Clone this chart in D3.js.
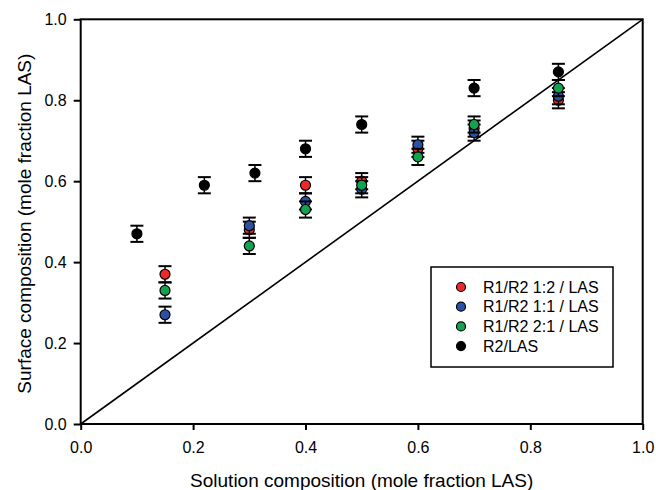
<!DOCTYPE html>
<html>
<head>
<meta charset="utf-8">
<script src="https://cdn.jsdelivr.net/npm/d3@7"></script>
<style>
  body { margin: 0; background: #fff; }
  svg { display: block; font-family: "Liberation Sans", Arial, sans-serif; }
</style>
</head>
<body>
<svg id="chart" width="656" height="490"></svg>
<script>
// series data
var seriesNames = ["R1/R2 1:2 / LAS", "R1/R2 1:1 / LAS", "R1/R2 2:1 / LAS", "R2/LAS"];
var seriesColors = ["#ec2a2c", "#2b50a4", "#13a350", "#000000"];

var xR1R2 = [0.15, 0.3, 0.4, 0.5, 0.6, 0.7, 0.85];
var yR1R2_12 = [0.37, 0.48, 0.59, 0.60, 0.68, 0.73, 0.80];
var yR1R2_11 = [0.27, 0.49, 0.55, 0.58, 0.69, 0.72, 0.81];
var yR1R2_21 = [0.33, 0.44, 0.53, 0.59, 0.66, 0.74, 0.83];
var errR1R2 = [0.02, 0.02, 0.02, 0.02, 0.02, 0.02, 0.02];

var xR2 = [0.1, 0.22, 0.31, 0.4, 0.5, 0.7, 0.85];
var yR2 = [0.47, 0.59, 0.62, 0.68, 0.74, 0.83, 0.87];
var errR2 = [0.02, 0.02, 0.02, 0.02, 0.02, 0.02, 0.02];

var tickValues = [0, 0.2, 0.4, 0.6, 0.8, 1.0];

function draw_chart() {
  var xs = [xR1R2, xR1R2, xR1R2, xR2];
  var ys = [yR1R2_12, yR1R2_11, yR1R2_21, yR2];
  var errs = [errR1R2, errR1R2, errR1R2, errR2];

  var svg = d3.select("#chart");
  var plotLeft = 80.7, plotRight = 642.7, plotTop = 19.3, plotBottom = 424;

  var x = d3.scaleLinear().domain([0, 1]).range([plotLeft, plotRight]);
  var y = d3.scaleLinear().domain([0, 1]).range([plotBottom, plotTop]);

  // axes
  var xAxis = d3.axisBottom(x).tickValues(tickValues).tickFormat(d3.format(".1f")).tickSize(6).tickPadding(11.5);
  var yAxis = d3.axisLeft(y).tickValues(tickValues).tickFormat(d3.format(".1f")).tickSize(7).tickPadding(7);

  svg.append("g")
    .attr("class", "axis")
    .attr("transform", "translate(0," + plotBottom + ")")
    .call(xAxis);
  svg.append("g")
    .attr("class", "axis")
    .attr("transform", "translate(" + plotLeft + ",0)")
    .call(yAxis);

  svg.selectAll(".axis path").remove();
  svg.selectAll(".axis line").attr("stroke", "#000").attr("stroke-width", 2);
  svg.selectAll(".axis text").attr("font-size", 16).attr("fill", "#000");

  // frame
  svg.append("rect")
    .attr("x", plotLeft)
    .attr("y", plotTop)
    .attr("width", plotRight - plotLeft)
    .attr("height", plotBottom - plotTop)
    .attr("fill", "none")
    .attr("stroke", "#000")
    .attr("stroke-width", 2);

  // diagonal y = x
  svg.append("line")
    .attr("x1", x(0)).attr("y1", y(0))
    .attr("x2", x(1)).attr("y2", y(1))
    .attr("stroke", "#000")
    .attr("stroke-width", 1.6);

  // series with error bars
  for (var s = 0; s < seriesNames.length; s++) {
    var g = svg.append("g");
    for (var i = 0; i < xs[s].length; i++) {
      var cx = x(xs[s][i]);
      var yTop = y(ys[s][i] + errs[s][i]);
      var yBot = y(ys[s][i] - errs[s][i]);
      g.append("line")
        .attr("x1", cx).attr("x2", cx)
        .attr("y1", yTop).attr("y2", yBot)
        .attr("stroke", "#000").attr("stroke-width", 1.5);
      g.append("line")
        .attr("x1", cx - 6.5).attr("x2", cx + 6.5)
        .attr("y1", yTop).attr("y2", yTop)
        .attr("stroke", "#000").attr("stroke-width", 2);
      g.append("line")
        .attr("x1", cx - 6.5).attr("x2", cx + 6.5)
        .attr("y1", yBot).attr("y2", yBot)
        .attr("stroke", "#000").attr("stroke-width", 2);
      g.append("circle")
        .attr("cx", cx)
        .attr("cy", y(ys[s][i]))
        .attr("r", 5)
        .attr("fill", seriesColors[s])
        .attr("stroke", "#000")
        .attr("stroke-width", 1.2);
    }
  }

  // legend
  svg.append("rect")
    .attr("x", 431)
    .attr("y", 267)
    .attr("width", 182)
    .attr("height", 100)
    .attr("fill", "#fff")
    .attr("stroke", "#000")
    .attr("stroke-width", 1.5);

  var legend = svg.append("g");
  seriesNames.forEach(function (name, k) {
    var ly = 287 + k * 19.7;
    legend.append("circle")
      .attr("cx", 461).attr("cy", ly).attr("r", 4.5)
      .attr("fill", seriesColors[k])
      .attr("stroke", "#000").attr("stroke-width", 1.2);
    legend.append("text")
      .attr("x", 483)
      .attr("y", ly + 5.5)
      .attr("font-size", 16)
      .text(name);
  });

  // axis titles
  svg.append("text")
    .attr("x", (plotLeft + plotRight) / 2)
    .attr("y", 486.5)
    .attr("text-anchor", "middle")
    .attr("font-size", 19)
    .text("Solution composition (mole fraction LAS)");

  svg.append("text")
    .attr("transform", "translate(31," + ((plotTop + plotBottom) / 2 + 2) + ") rotate(-90)")
    .attr("text-anchor", "middle")
    .attr("font-size", 19)
    .text("Surface composition (mole fraction LAS)");
}

draw_chart();
</script>
</body>
</html>
